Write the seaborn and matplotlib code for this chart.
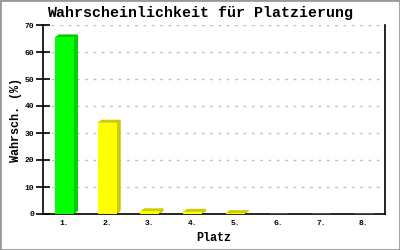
import matplotlib
matplotlib.use("Agg")
import matplotlib.pyplot as plt
import seaborn as sns
import pandas as pd
from matplotlib.patches import Polygon, Rectangle

places = ["1.", "2.", "3.", "4.", "5.", "6.", "7.", "8."]
probs = [65.4, 33.8, 1.0, 0.8, 0.3, 0.0, 0.0, 0.0]
front_colors = ["#00ff00", "#ffff00", "#ffff00", "#ffff00", "#ffff00", "#ffff00", "#ffff00", "#ffff00"]
side_colors = ["#00cc00", "#cccc00", "#cccc00", "#cccc00", "#cccc00", "#cccc00", "#cccc00", "#cccc00"]
yticks = [0, 10, 20, 30, 40, 50, 60, 70]

sns.set_theme(style="white")
plt.rcParams["font.family"] = ["Liberation Mono", "DejaVu Sans Mono"]
plt.rcParams["text.color"] = "black"
plt.rcParams["axes.labelcolor"] = "black"
plt.rcParams["xtick.color"] = "black"
plt.rcParams["ytick.color"] = "black"

df = pd.DataFrame({"Platz": places, "p": probs})

fig = plt.figure(figsize=(4, 2.5), dpi=100)
fig.patch.set_facecolor("white")
ax = fig.add_axes([43 / 400, 36 / 250, 342 / 400, 189 / 250])

sns.barplot(data=df, x="Platz", y="p", hue="Platz", palette=front_colors,
            legend=False, width=0.45, ax=ax, saturation=1, zorder=3)
ax.set_xlim(-0.5, 7.5)
ax.set_ylim(0, 70)
ax.set_yticks(yticks)

# 3D extrusion derived from the bar patches
fig.canvas.draw()
inv = ax.transData.inverted()
o = ax.transData.transform((0, 0))
d = inv.transform((o[0] + 4, o[1] + 3))
dx, dy = d[0] - 0, d[1] - 0
for patch, sc in zip(ax.patches, side_colors):
    x0 = patch.get_x()
    w = patch.get_width()
    h = patch.get_height()
    if h <= 0:
        continue
    x1 = x0 + w
    poly = Polygon([(x0, h), (x0 + dx, h + dy), (x1 + dx, h + dy), (x1 + dx, dy),
                    (x1, 0), (x1, h)], closed=True, facecolor=sc, edgecolor="none",
                   zorder=2, clip_on=False)
    ax.add_patch(poly)
    patch.set_edgecolor("none")

ax.grid(axis="y", color="#c0c0c0", linestyle=(0, (2, 4)), linewidth=1, zorder=0)
ax.grid(axis="x", visible=False)
ax.set_axisbelow(True)
for s in ["left", "bottom", "right"]:
    ax.spines[s].set_visible(True)
    ax.spines[s].set_color("black")
    ax.spines[s].set_linewidth(1.2)
ax.spines["top"].set_visible(False)

ax.tick_params(axis="y", direction="inout", length=10, width=1.2, color="black",
               labelsize=5.8, pad=1.5, left=True, labelcolor="black")
ax.tick_params(axis="x", length=0, labelsize=5.8, pad=4, labelcolor="black")
for lab in ax.get_xticklabels() + ax.get_yticklabels():
    lab.set_fontweight("bold")

ax.set_xlabel("Platz", fontsize=8.5, fontweight="bold", labelpad=4, color="black")
ax.set_ylabel("Wahrsch. (%)", fontsize=8.5, fontweight="bold", labelpad=2, color="black")
fig.suptitle("Wahrscheinlichkeit für Platzierung", fontsize=10.8, fontweight="bold",
             x=0.5, y=0.975, va="top", color="black")

border = Rectangle((0, 0), 1, 1, transform=fig.transFigure, fill=False,
                   edgecolor="#999999", linewidth=2, zorder=10)
fig.patches.append(border)

fig.savefig("out.png", dpi=100)
